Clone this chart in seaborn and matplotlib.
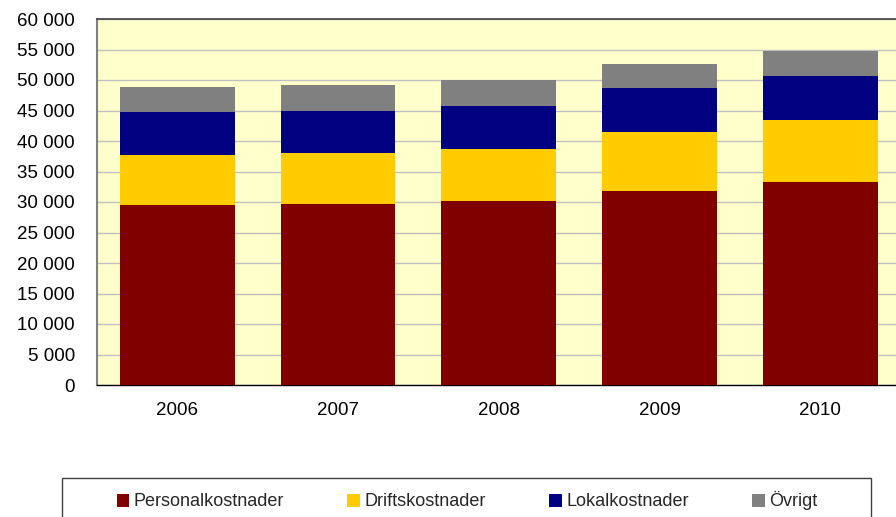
import numpy as np
import pandas as pd
import matplotlib
matplotlib.use("Agg")
import matplotlib.pyplot as plt
import seaborn as sns
from matplotlib.patches import Patch, Rectangle
from matplotlib.ticker import FuncFormatter, MultipleLocator

# === DATA ===
years = ["2006", "2007", "2008", "2009", "2010"]
personal = [29500, 29700, 30100, 31850, 33350]
drift = [8200, 8300, 8650, 9550, 10050]
lokal = [7000, 6900, 7050, 7300, 7200]
ovrigt = [4200, 4300, 4200, 3950, 4100]

series = ["Personalkostnader", "Driftskostnader", "Lokalkostnader", "Övrigt"]
colors = ["#800000", "#FFCC00", "#000080", "#808080"]

df = pd.DataFrame({"År": years, series[0]: personal, series[1]: drift,
                   series[2]: lokal, series[3]: ovrigt})

# cumulative sums for stacking (draw tallest first)
cum = df[series].cumsum(axis=1)
cum["År"] = years

sns.set_style("white")
plt.rcParams["font.family"] = ["Liberation Sans", "DejaVu Sans"]

fig = plt.figure(figsize=(8.96, 5.17), dpi=100)
ax = fig.add_axes([97 / 896, 132 / 517, 803.5 / 896, 366 / 517])
ax.set_facecolor("#FFFFCC")

for name, col in reversed(list(zip(series, colors))):
    sns.barplot(data=cum, x="År", y=name, color=col, width=0.714,
                saturation=1, edgecolor="none", ax=ax, zorder=3)

ax.set_ylim(0, 60000)
ax.set_xlim(-0.5, 4.5)
ax.yaxis.set_major_locator(MultipleLocator(5000))
ax.yaxis.set_major_formatter(FuncFormatter(lambda v, p: f"{v:,.0f}".replace(",", " ")))
ax.grid(axis="y", color="#C0C0C0", linewidth=1.0, zorder=0)
ax.set_axisbelow(True)
ax.set_xlabel("")
ax.set_ylabel("")
ax.tick_params(axis="y", length=0, pad=16, labelsize=13.5, labelcolor="black")
ax.tick_params(axis="x", length=0, pad=12, labelsize=13.5, labelcolor="black")
for s in ["top", "right"]:
    ax.spines[s].set_color("#404040")
    ax.spines[s].set_linewidth(1.2)
ax.spines["left"].set_color("#808080")
ax.spines["left"].set_linewidth(1.5)
ax.spines["bottom"].set_color("black")
ax.spines["bottom"].set_linewidth(1.0)

# === LEGEND ===
# box of the legend, runs off the bottom edge like the original
fig.patches.append(Rectangle((62 / 896, -0.05), 809 / 896, 0.05 + 1 - 478 / 517,
                             transform=fig.transFigure, facecolor="white",
                             edgecolor="#404040", linewidth=1.0))
handles = [Patch(facecolor=c, edgecolor="none") for c in colors]
leg = fig.legend(handles, series, loc="center", ncol=4,
                 bbox_to_anchor=(467 / 896, 1 - 501 / 517),
                 fontsize=13, frameon=False,
                 handlelength=0.7, handleheight=0.7, handletextpad=0.25,
                 columnspacing=3.5, borderaxespad=0, borderpad=0)

fig.savefig("out.png", dpi=100)
